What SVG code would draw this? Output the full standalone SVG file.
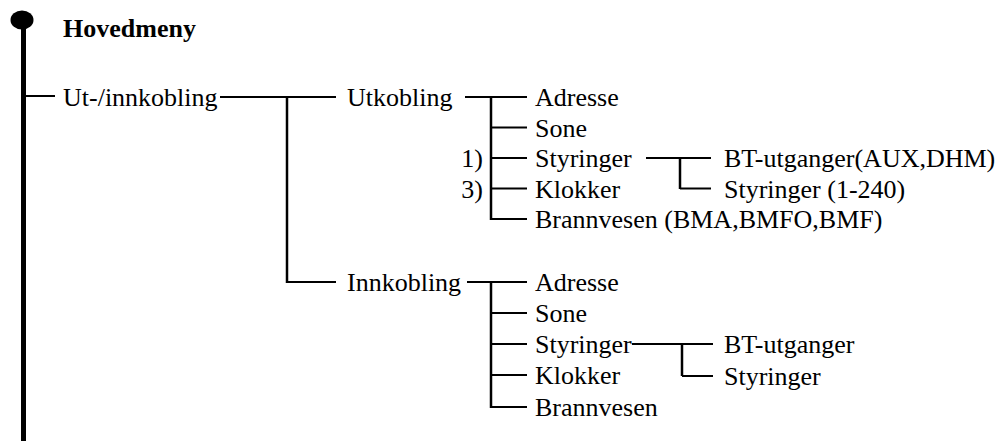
<svg xmlns="http://www.w3.org/2000/svg" width="1005" height="448" viewBox="0 0 1005 448">
<style>
text{font-family:"Liberation Serif","Times New Roman",serif;font-size:26px;fill:#000}
.b{font-weight:bold}
.c{stroke:#000;stroke-width:2;fill:none}
.v{stroke:#000;stroke-width:2.5;fill:none}
</style>
<rect width="1005" height="448" fill="#fff"/>
<g id="connectors">
<ellipse cx="22" cy="20" rx="11.5" ry="9.5" fill="#000"/>
<line x1="23.5" y1="20" x2="23.5" y2="441" stroke="#000" stroke-width="5"/>
<line class="c" x1="26" y1="96" x2="55" y2="96"/>
<line class="c" x1="220" y1="97" x2="336" y2="97"/>
<line class="v" x1="287" y1="97" x2="287" y2="283"/>
<line class="c" x1="287" y1="282" x2="336" y2="282"/>
<line class="c" x1="465" y1="97" x2="527" y2="97"/>
<line class="v" x1="491" y1="97" x2="491" y2="220"/>
<line class="c" x1="491" y1="127.5" x2="527" y2="127.5"/>
<line class="c" x1="491" y1="158" x2="527" y2="158"/>
<line class="c" x1="491" y1="188.5" x2="527" y2="188.5"/>
<line class="c" x1="491" y1="219" x2="527" y2="219"/>
<line class="c" x1="646" y1="158" x2="711" y2="158"/>
<line class="v" x1="680" y1="158" x2="680" y2="189"/>
<line class="c" x1="680" y1="188.5" x2="711" y2="188.5"/>
<line class="c" x1="467" y1="282" x2="527" y2="282"/>
<line class="v" x1="491" y1="282" x2="491" y2="408"/>
<line class="c" x1="491" y1="313" x2="527" y2="313"/>
<line class="c" x1="491" y1="344" x2="527" y2="344"/>
<line class="c" x1="491" y1="375" x2="527" y2="375"/>
<line class="c" x1="491" y1="407" x2="527" y2="407"/>
<line class="c" x1="632" y1="344" x2="713" y2="344"/>
<line class="v" x1="682" y1="344" x2="682" y2="376"/>
<line class="c" x1="682" y1="376" x2="713" y2="376"/>
</g>
<g id="n-hovedmeny"><text class="b" x="63" y="37">Hovedmeny</text></g>
<g id="n-utinn"><text x="63" y="106">Ut-/innkobling</text></g>
<g id="n-utkobling"><text x="347" y="106">Utkobling</text></g>
<g id="n-u-adresse"><text x="535" y="106">Adresse</text></g>
<g id="n-u-sone"><text x="535" y="136.5">Sone</text></g>
<g id="n-u-styringer"><text x="535" y="167">Styringer</text><text x="483" y="167" text-anchor="end">1)</text></g>
<g id="n-u-klokker"><text x="535" y="197.5">Klokker</text><text x="483" y="197.5" text-anchor="end">3)</text></g>
<g id="n-u-brannvesen"><text x="535" y="228">Brannvesen (BMA,BMFO,BMF)</text></g>
<g id="n-u-bt"><text x="724" y="167">BT-utganger(AUX,DHM)</text></g>
<g id="n-u-styr2"><text x="724" y="197.5">Styringer (1-240)</text></g>
<g id="n-innkobling"><text x="347" y="291">Innkobling</text></g>
<g id="n-i-adresse"><text x="535" y="291">Adresse</text></g>
<g id="n-i-sone"><text x="535" y="322">Sone</text></g>
<g id="n-i-styringer"><text x="535" y="353">Styringer</text></g>
<g id="n-i-klokker"><text x="535" y="384">Klokker</text></g>
<g id="n-i-brannvesen"><text x="535" y="416">Brannvesen</text></g>
<g id="n-i-bt"><text x="724" y="353">BT-utganger</text></g>
<g id="n-i-styr2"><text x="724" y="385">Styringer</text></g>
</svg>
